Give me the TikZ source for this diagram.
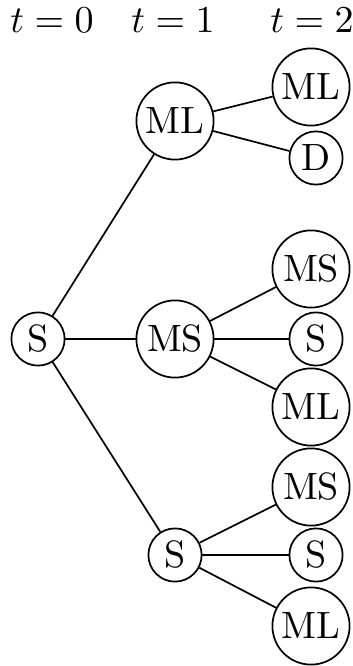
\documentclass[tikz,border=0pt]{standalone}
\begin{document}
\begin{tikzpicture}[x=0.263pt,y=-0.263pt,
  big/.style={draw,circle,line width=0.45pt,inner sep=0pt,minimum size=20.3pt},
  small/.style={draw,circle,line width=0.45pt,inner sep=0pt,minimum size=14pt},
  hdr/.style={anchor=base,inner sep=0pt},
  conn/.style={line width=0.45pt}]
\useasboundingbox (0,0) rectangle (353,666);
% headers
\node[hdr] (h0) at (52,33) {$t=0$};
\node[hdr] (h1) at (173,33) {$t=1$};
\node[hdr] (h2) at (312,33) {$t=2$};
% t=0
\node[small] (s0) at (38,339) {S};
% t=1
\node[big] (ml1) at (175,121) {ML};
\node[big] (ms1) at (175,339) {MS};
\node[small] (s1) at (175,555) {S};
% t=2
\node[big] (ml2a) at (311,87) {ML};
\node[small] (d2) at (316,158) {D};
\node[big] (ms2a) at (311,269) {MS};
\node[small] (s2a) at (316,339) {S};
\node[big] (ml2b) at (311,407) {ML};
\node[big] (ms2b) at (311,487) {MS};
\node[small] (s2b) at (316,555) {S};
\node[big] (ml2c) at (311,626) {ML};
% connectors
\draw[conn] (s0) -- (ml1);
\draw[conn] (s0) -- (ms1);
\draw[conn] (s0) -- (s1);
\draw[conn] (ml1) -- (ml2a);
\draw[conn] (ml1) -- (d2);
\draw[conn] (ms1) -- (ms2a);
\draw[conn] (ms1) -- (s2a);
\draw[conn] (ms1) -- (ml2b);
\draw[conn] (s1) -- (ms2b);
\draw[conn] (s1) -- (s2b);
\draw[conn] (s1) -- (ml2c);
\end{tikzpicture}
\end{document}
